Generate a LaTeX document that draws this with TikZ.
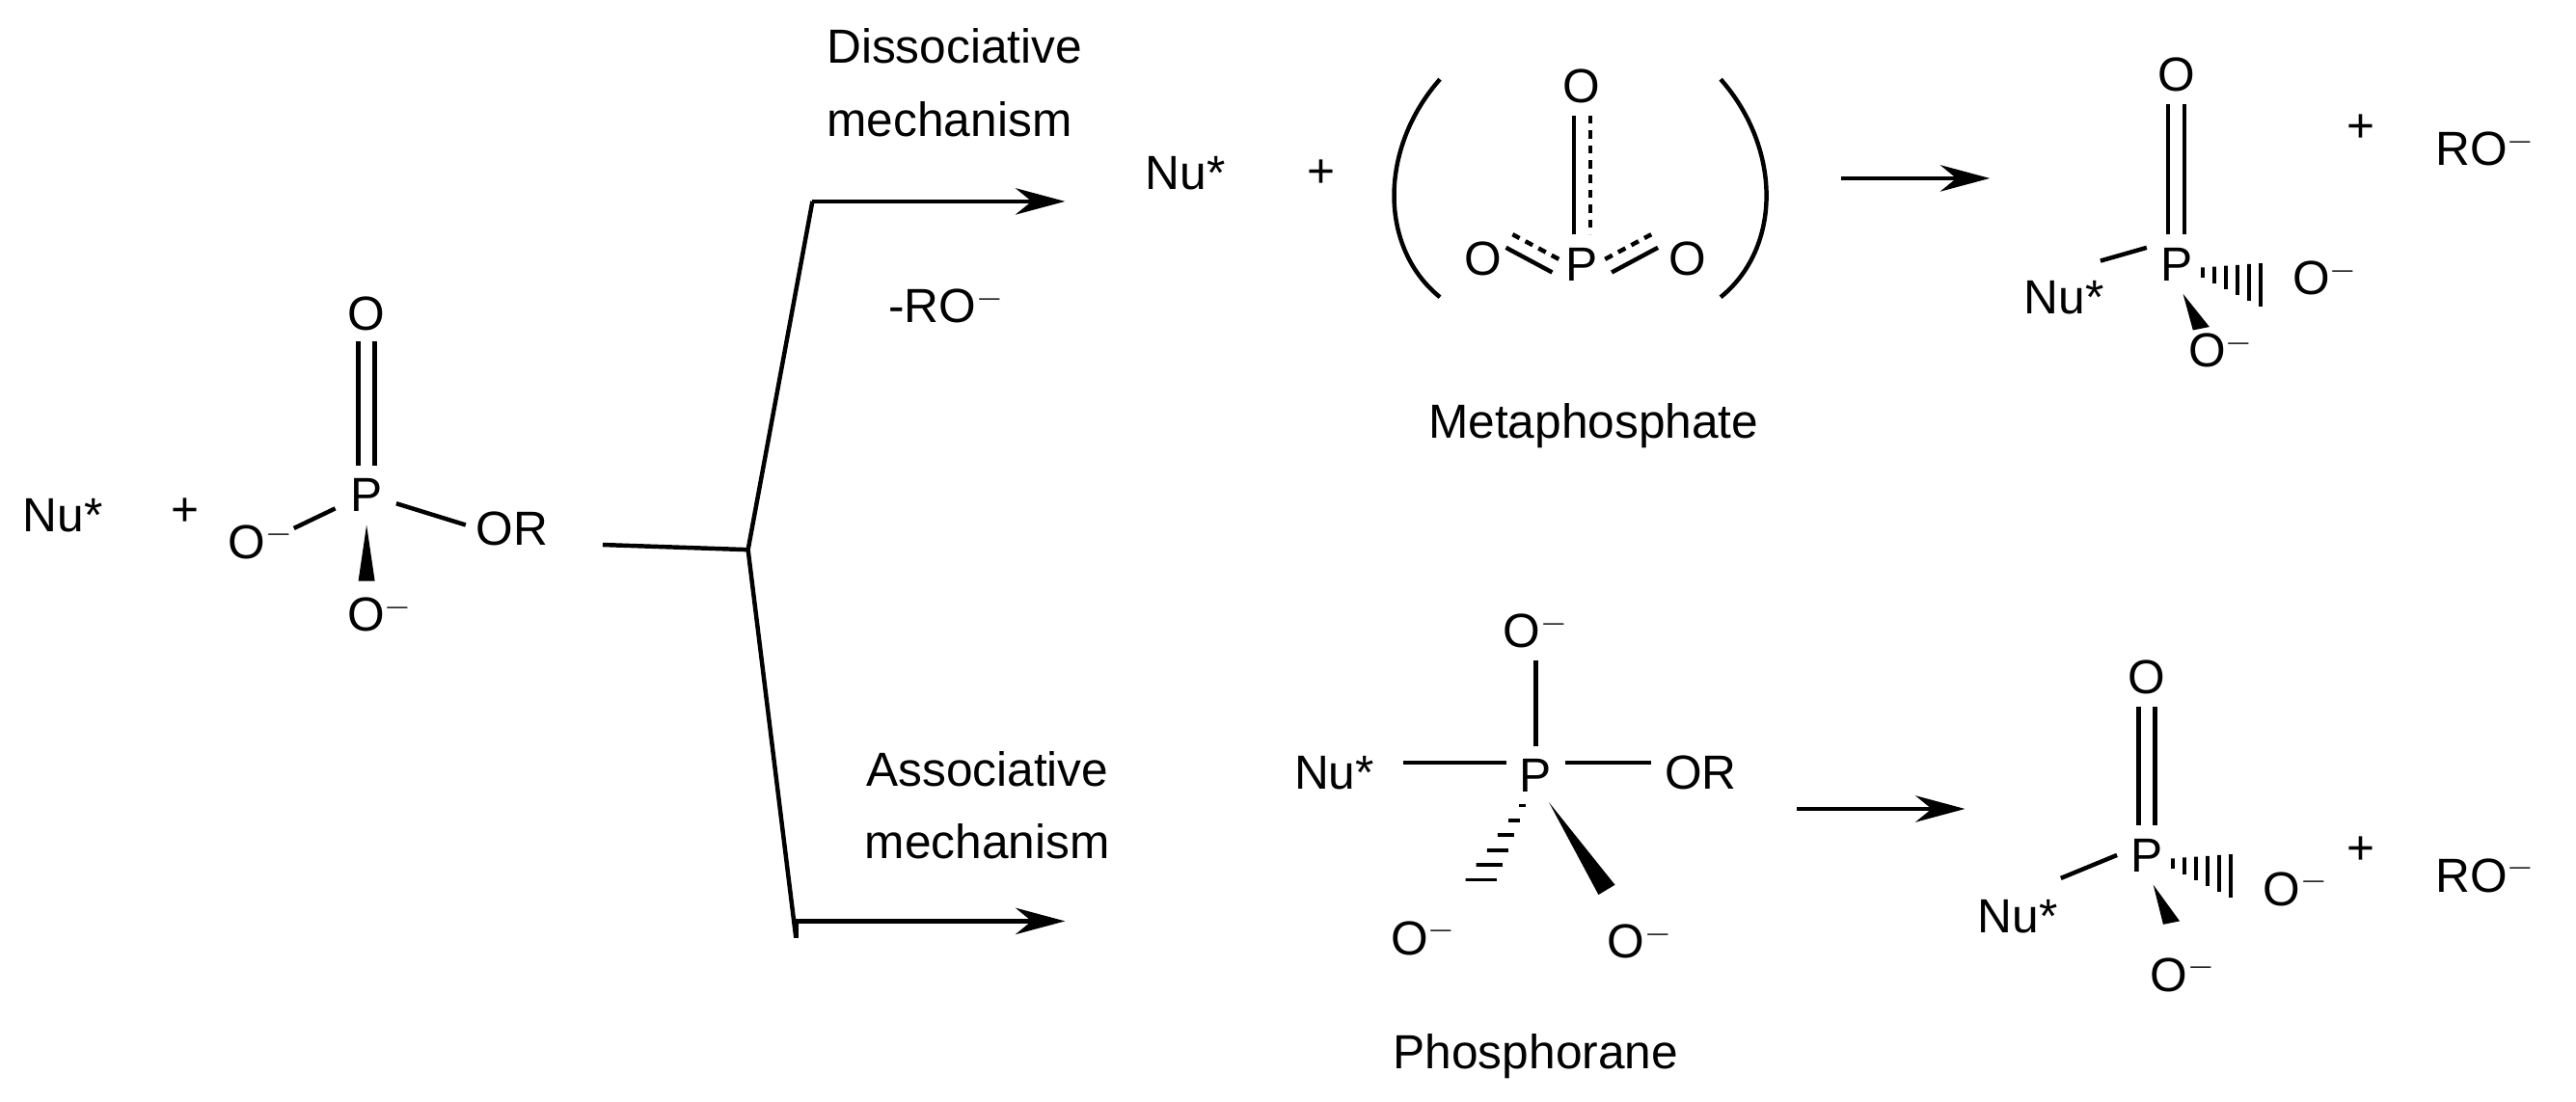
\documentclass[tikz,border=0pt]{standalone}
\usepackage{fontspec}
\setmainfont{Liberation Sans}
\usetikzlibrary{arrows.meta,calc}
\begin{document}
\begin{tikzpicture}[x=1pt,y=-1pt,
  t/.style={inner sep=0pt,font=\fontsize{29}{34}\selectfont},
  b/.style={line width=2.6pt},
  ar/.style={line width=2.6pt,-{Stealth[length=30pt,width=16pt]}},
  dd/.style={line width=2.6pt,dash pattern=on 5pt off 4pt}]
\useasboundingbox (0,0) rectangle (1560,667);
% reactant
\node[t] (nu1) at (38,312) {Nu*};
\node[t] (pl1) at (112,310) {+};
\node[t] (p1) at (222,300) {P};
\node[t] (o1t) at (222,190) {O};
\node[t] (o1l) at (158,328) {O$^{-}$};
\node[t] (o1r) at (310,320) {OR};
\node[t] (o1b) at (230,372) {O$^{-}$};
\draw[b] (217,207)--(217,282) (227,207)--(227,282);
\draw[b] (203,308)--(178,320);
\draw[b] (240,305)--(282,318);
\fill (222,318) -- (217,352) -- (227,352) -- cycle;
% branch
\coordinate (br) at (453,333);
\coordinate (tp) at (492,122);
\coordinate (bt) at (482,568);
\draw[b] (365,330)--(br);
\draw[b] (br)--(tp);
\draw[b] (br)--(bt);
\coordinate (ta) at (645,122);
\coordinate (ba) at (645,558);
\draw[ar] (tp)--(ta);
\draw[b] (bt)--(482,558);
\draw[ar] (482,558)--(ba);
\node[t] (d1) at (578,28) {Dissociative};
\node[t] (d2) at (575,72) {mechanism};
\node[t] (ro) at (573,185) {-RO$^{-}$};
\node[t] (a1) at (598,466) {Associative};
\node[t] (a2) at (598,510) {mechanism};
% metaphosphate
\node[t] (nu2) at (718,105) {Nu*};
\node[t] (pl2) at (800,105) {+};
\draw[b] (872,48) .. controls (835,90) and (835,150) .. (872,180);
\draw[b] (1042,48) .. controls (1079,90) and (1079,150) .. (1042,180);
\node[t] (p2) at (958,160) {P};
\node[t] (o2t) at (958,52) {O};
\node[t] (o2l) at (898,157) {O};
\node[t] (o2r) at (1022,157) {O};
\draw[b] (953,70)--(953,142); \draw[dd] (963,70)--(963,142);
\draw[b] (940,165)--(912,150); \draw[dd] (944,157)--(916,142);
\draw[b] (976,165)--(1004,150); \draw[dd] (972,157)--(1000,142);
\node[t] (meta) at (965,258) {Metaphosphate};
\coordinate (m1) at (1115,108); \coordinate (m2) at (1205,108);
\draw[ar] (m1)--(m2);
% top product
\node[t] (p3) at (1318,160) {P};
\node[t] (o3t) at (1318,45) {O};
\node[t] (nu3) at (1250,180) {Nu*};
\node[t] (o3r) at (1408,168) {O$^{-}$};
\node[t] (o3b) at (1345,212) {O$^{-}$};
\draw[b] (1313,63)--(1313,142) (1323,63)--(1323,142);
\draw[b] (1272,158)--(1300,150);
\foreach \i in {0,...,5} \draw[line width=2.2pt] ($(1334,165)+(\i*7,\i*1.5)$) -- ++(0,{-3-\i*2}) -- ++(0,{6+\i*4});
\fill (1322,178) -- (1328,200) -- (1338,198) -- cycle;
\node[t] (pl3) at (1430,78) {+};
\node[t] (ro3) at (1505,90) {RO$^{-}$};
% phosphorane
\node[t] (p4) at (930,470) {P};
\node[t] (o4t) at (930,382) {O$^{-}$};
\node[t] (nu4) at (808,468) {Nu*};
\node[t] (or4) at (1030,468) {OR};
\node[t] (o4l) at (862,568) {O$^{-}$};
\node[t] (o4r) at (993,570) {O$^{-}$};
\draw[b] (930,400)--(930,452);
\draw[b] (850,462)--(912,462);
\draw[b] (948,462)--(1000,462);
\foreach \i in {0,...,5} \draw[line width=2.2pt] ($(922,488)+(-\i*5,\i*9)$) -- ++({-2-\i*1.5},0) -- ++({4+\i*3},0);
\fill (938,486) -- (968,542) -- (978,536) -- cycle;
\node[t] (phos) at (930,640) {Phosphorane};
\coordinate (n1) at (1088,490); \coordinate (n2) at (1190,490);
\draw[ar] (n1)--(n2);
% bottom product
\node[t] (p5) at (1300,518) {P};
\node[t] (o5t) at (1300,410) {O};
\node[t] (nu5) at (1222,555) {Nu*};
\node[t] (o5r) at (1390,538) {O$^{-}$};
\node[t] (o5b) at (1322,590) {O$^{-}$};
\draw[b] (1295,428)--(1295,500) (1305,428)--(1305,500);
\draw[b] (1248,532)--(1282,518);
\foreach \i in {0,...,5} \draw[line width=2.2pt] ($(1316,523)+(\i*7,\i*1.5)$) -- ++(0,{-3-\i*2}) -- ++(0,{6+\i*4});
\fill (1304,536) -- (1310,560) -- (1320,558) -- cycle;
\node[t] (pl5) at (1430,515) {+};
\node[t] (ro5) at (1505,530) {RO$^{-}$};
\end{tikzpicture}
\end{document}
